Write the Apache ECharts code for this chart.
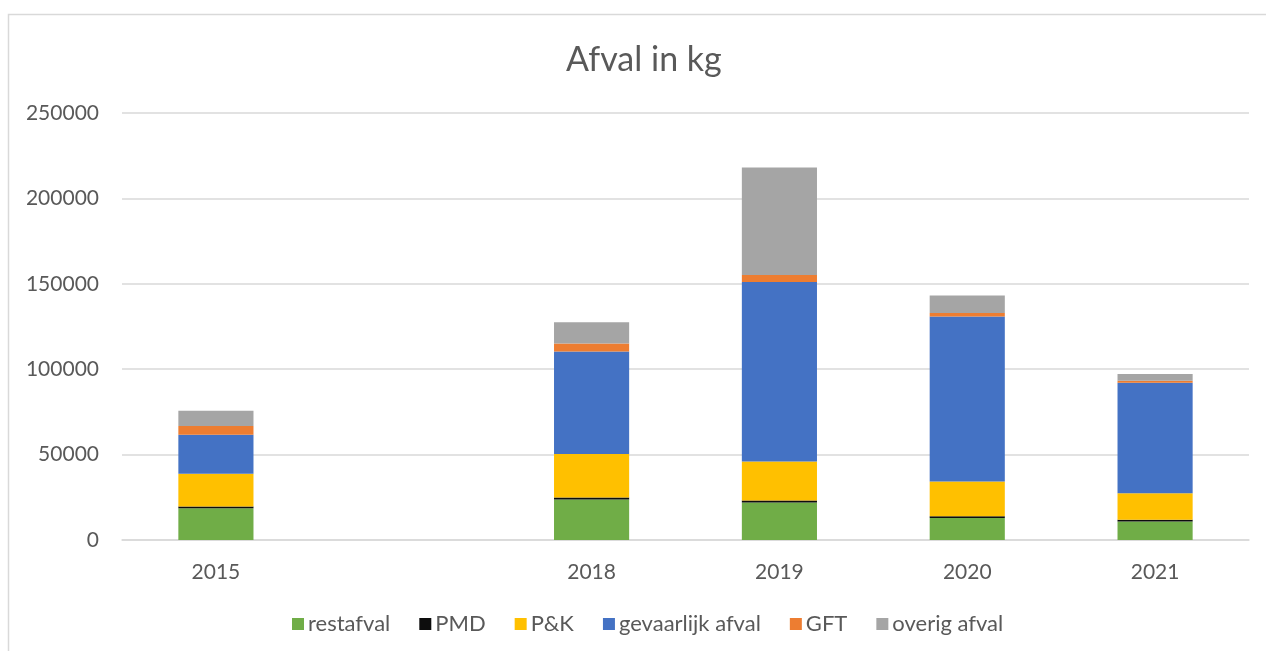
<!DOCTYPE html>
<html>
<head>
<meta charset="utf-8">
<script src="https://cdn.jsdelivr.net/npm/echarts@6/dist/echarts.min.js"></script>
<style>
  html, body { margin: 0; padding: 0; background: #fff; }
  #chart { width: 1266px; height: 651px; }
</style>
</head>
<body>
<div id="chart"></div>
<script>
// Years on the category axis; the blank slot keeps the gap between 2015 and 2018
const years = ['2015', '', '2018', '2019', '2020', '2021'];

// Waste amounts in kg per stream, one entry per year slot ('-' = no data)
const restafval       = [18600, '-', 23700, 21900, 12900, 10900];
const pmd             = [1000,  '-', 1200,  1200,  1000,  1000];
const papierKarton    = [19200, '-', 25500, 22900, 20400, 15500];
const gevaarlijkAfval = [22800, '-', 60000, 105100, 96600, 64700];
const gft             = [5100,  '-', 4700,  4100,  2000,  1200];
const overigAfval     = [9000,  '-', 12400, 62900, 10200, 3900];

const seriesNames  = ['restafval', 'PMD', 'P&K', 'gevaarlijk afval', 'GFT', 'overig afval'];
const seriesData   = [restafval, pmd, papierKarton, gevaarlijkAfval, gft, overigAfval];
const seriesColors = ['#70ad47', '#0d0d0d', '#ffc000', '#4472c4', '#ed7d31', '#a5a5a5'];

const textColor = '#595959';
const fontFamily = 'Lato, "Open Sans", sans-serif';

const chart = echarts.init(document.getElementById('chart'));
chart.setOption({
  backgroundColor: '#fff',
  animation: false,
  textStyle: { fontFamily: fontFamily, color: textColor },
  title: {
    text: 'Afval in kg',
    left: 561,
    top: 38,
    textStyle: { fontFamily: fontFamily, fontSize: 34, fontWeight: 'normal', color: textColor }
  },
  graphic: [{
    type: 'rect',
    shape: { x: 8.5, y: 14.5, width: 1300, height: 700 },
    style: { fill: 'none', stroke: '#d9d9d9', lineWidth: 1.5 },
    silent: true
  }],
  legend: {
    data: seriesNames,
    bottom: 11,
    left: 287,
    icon: 'rect',
    itemWidth: 12,
    itemHeight: 12,
    itemGap: 29,
    textStyle: { fontFamily: fontFamily, fontSize: 22, color: textColor, padding: [0, 0, 0, -1] }
  },
  grid: { left: 122, right: 17, top: 113, bottom: 111, containLabel: false },
  xAxis: {
    type: 'category',
    data: years,
    axisTick: { show: false },
    axisLine: { lineStyle: { color: '#d9d9d9', width: 1.5 } },
    axisLabel: { fontFamily: fontFamily, fontSize: 21, color: textColor, margin: 22 }
  },
  yAxis: {
    type: 'value',
    min: 0,
    max: 250000,
    interval: 50000,
    axisLine: { show: false },
    axisTick: { show: false },
    splitLine: { lineStyle: { color: '#d9d9d9', width: 1.5 } },
    axisLabel: {
      fontFamily: fontFamily, fontSize: 21, color: textColor, margin: 23,
      formatter: v => String(v)
    }
  },
  series: seriesNames.map((name, i) => ({
    name: name,
    type: 'bar',
    stack: 'afval',
    barWidth: '40%',
    data: seriesData[i],
    itemStyle: { color: seriesColors[i] }
  }))
});
</script>
</body>
</html>
